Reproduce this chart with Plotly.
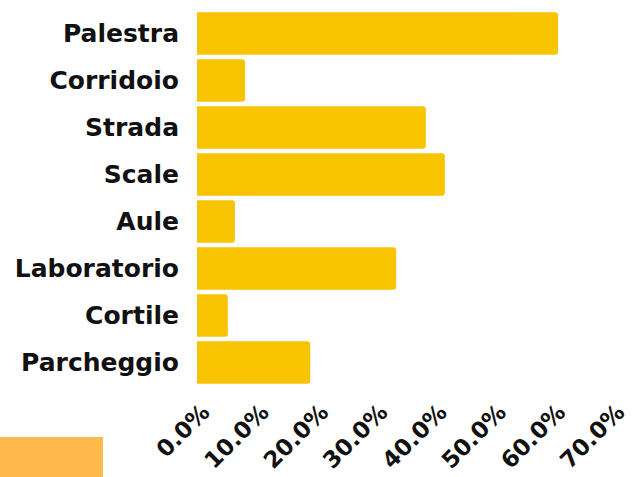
import plotly.graph_objects as go

categories = ["Palestra", "Corridoio", "Strada", "Scale", "Aule", "Laboratorio", "Cortile", "Parcheggio"]
values = [0.609, 0.081, 0.386, 0.418, 0.064, 0.336, 0.052, 0.191]
tick_vals = [0, 0.1, 0.2, 0.3, 0.4, 0.5, 0.6, 0.7]

FONT = "DejaVu Sans"

fig = go.Figure(go.Bar(
    y=categories, x=values, orientation="h",
    marker=dict(color="#F8C300", line=dict(width=0)),
))
fig.update_layout(
    width=640, height=477,
    margin=dict(l=197, r=28, t=10, b=91),
    plot_bgcolor="white", paper_bgcolor="white",
    bargap=0.1, barcornerradius=3,
    font=dict(family=FONT, size=22, color="black", weight="bold"),
    showlegend=False,
    shapes=[dict(type="rect", xref="paper", yref="paper",
                 x0=-197/415, x1=(103-197)/415, y0=-91/376, y1=-(437-386)/376,
                 fillcolor="#FDB94A", line=dict(width=0), layer="above")],
)
fig.update_yaxes(autorange="reversed", showgrid=False, ticks="", ticklabelstandoff=17,
                 automargin=False,
                 tickfont=dict(family=FONT, size=25, weight="bold", color="#111"))
fig.update_xaxes(range=[0, 0.7], tickvals=tick_vals, tickformat=".1%", tickangle=-45,
                 showgrid=False, zeroline=False, showline=False, automargin=False,
                 ticklabelstandoff=7, ticklabelshift=6,
                 tickfont=dict(family=FONT, size=23, weight="bold", color="#111"))
fig.write_html("out.html", config={"displayModeBar": False},
               post_script="document.body.style.margin='0';")
